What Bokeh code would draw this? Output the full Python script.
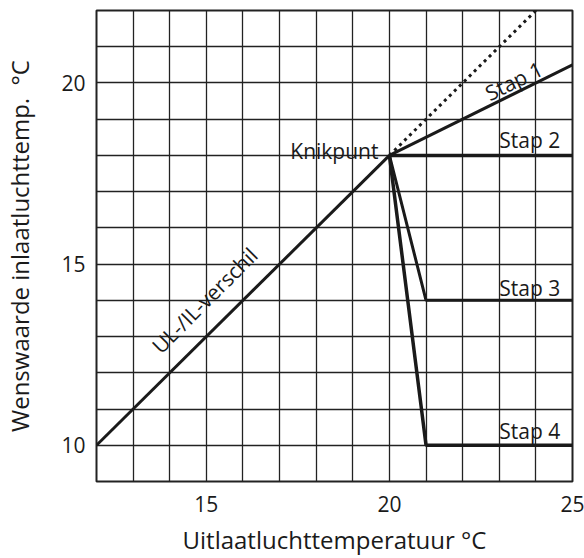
import math
from bokeh.plotting import figure
from bokeh.models import Range1d, FixedTicker
from bokeh.core.properties import value
from bokeh.embed import file_html
from bokeh.resources import INLINE

# --- data ---
ul_x = [12, 20]
ul_y = [10, 18]
dotted_x = [20, 24]
dotted_y = [18, 22]
stap1_x = [20, 25]
stap1_y = [18, 20.5]
stap2_x = [20, 25]
stap2_y = [18, 18]
stap3_x = [20, 21, 25]
stap3_y = [18, 14, 14]
stap4_x = [20, 21, 25]
stap4_y = [18, 10, 10]
x_ticks = [15, 20, 25]
y_ticks = [10, 15, 20]
grid_x = list(range(12, 26))
grid_y = list(range(9, 23))
x_title = "Uitlaatluchttemperatuur °C"
y_title = "Wenswaarde inlaatluchttemp.\u00a0\u00a0°C"

FONT = "Open Sans"
DARK = "#1a1a1a"

p = figure(width=584, height=558, output_backend="svg", toolbar_location=None,
           x_range=Range1d(12, 25), y_range=Range1d(9, 22),
           min_border_left=93, min_border_right=12, min_border_top=10, min_border_bottom=74,
           x_axis_label=x_title, y_axis_label=y_title)

p.background_fill_color = "white"
p.border_fill_color = "white"
p.outline_line_color = "#222222"
p.outline_line_width = 2

p.xgrid.ticker = FixedTicker(ticks=grid_x)
p.ygrid.ticker = FixedTicker(ticks=grid_y)
for g in (p.xgrid, p.ygrid):
    g.grid_line_color = "#222222"
    g.grid_line_width = 1.3
    g.grid_line_alpha = 1.0

for ax, ticks in ((p.xaxis, x_ticks), (p.yaxis, y_ticks)):
    ax.ticker = FixedTicker(ticks=ticks)
    ax.major_tick_line_color = None
    ax.minor_tick_line_color = None
    ax.axis_line_color = None
    ax.major_label_text_font = FONT
    ax.major_label_text_font_size = "21px"
    ax.major_label_text_color = DARK
    ax.axis_label_text_font = FONT
    ax.axis_label_text_font_size = "24px"
    ax.axis_label_text_font_style = "normal"
    ax.axis_label_text_color = DARK

p.xaxis.major_label_standoff = 8
p.xaxis.axis_label_standoff = 8
p.yaxis.major_label_standoff = 5
p.yaxis.axis_label_standoff = 22

LW = 3
p.line(ul_x, ul_y, line_color=DARK, line_width=LW)
p.line(dotted_x, dotted_y, line_color=DARK, line_width=LW, line_dash="3 4")
p.line(stap1_x, stap1_y, line_color=DARK, line_width=LW)
p.line(stap2_x, stap2_y, line_color=DARK, line_width=LW + 0.5)
p.line(stap3_x, stap3_y, line_color=DARK, line_width=LW)
p.line(stap4_x, stap4_y, line_color=DARK, line_width=LW + 0.5)

# labels
lbl_font_size = "21px"
p.text(x=[19.7], y=[18.12], text=["Knikpunt"], text_font=value(FONT),
       text_font_size=lbl_font_size, text_color=DARK, text_align="right",
       text_baseline="alphabetic")
p.text(x=[23, 23, 23], y=[18.42, 14.34, 10.4], text=["Stap 2", "Stap 3", "Stap 4"],
       text_font=value(FONT), text_font_size=lbl_font_size, text_color=DARK,
       text_align="left", text_baseline="alphabetic")
p.text(x=[23.4], y=[20.06], text=["Stap 1"], text_font=value(FONT),
       text_font_size=lbl_font_size, text_color=DARK, text_align="center",
       text_baseline="middle", angle=math.atan(0.5 * 36.2 / 36.85))
p.text(x=[14.95], y=[14.0], text=["UL-/IL-verschil"], text_font=value(FONT),
       text_font_size=lbl_font_size, text_color=DARK, text_align="center",
       text_baseline="middle", angle=math.pi / 4)

open("out.html", "w").write(file_html(p, INLINE))
